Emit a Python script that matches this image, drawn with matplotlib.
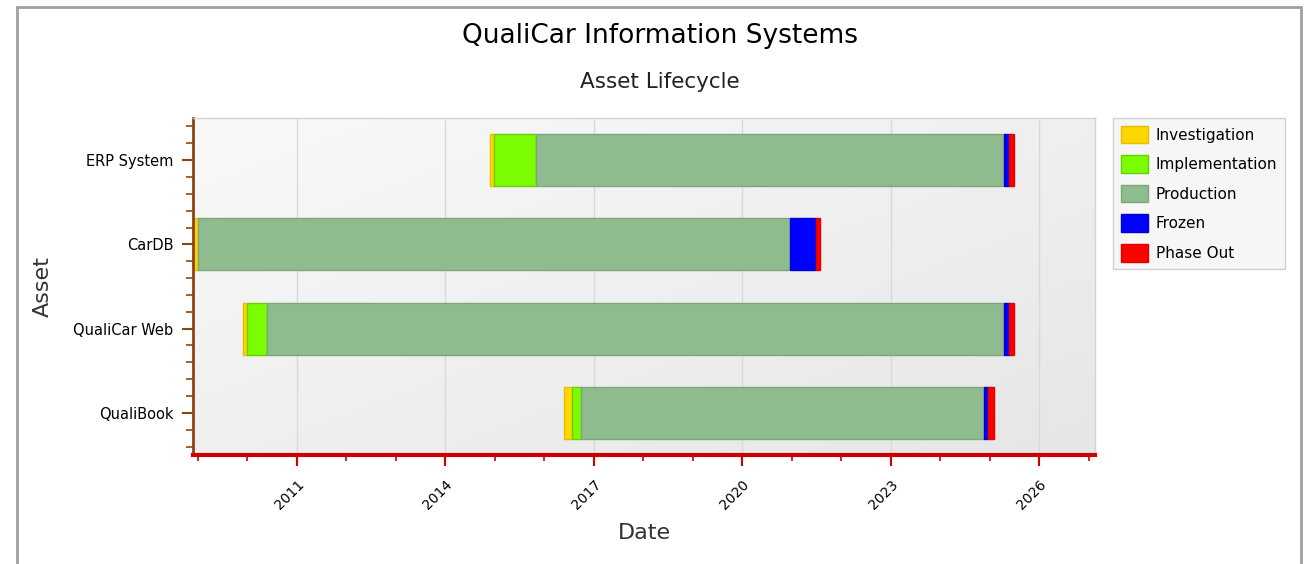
import matplotlib
matplotlib.use("Agg")
import matplotlib.pyplot as plt
import matplotlib.dates as mdates
from matplotlib.patches import Patch, Rectangle
from matplotlib.ticker import FixedLocator, MultipleLocator
from datetime import date
import numpy as np

assets = ["QualiBook", "QualiCar Web", "CarDB", "ERP System"]
phases = ["Investigation", "Implementation", "Production", "Frozen", "Phase Out"]
phase_colors = ["#ffd700", "#7cfc00", "#8fbc8f", "#0000ff", "#ff0000"]
edge_colors = ["#e6bd00", "#6ad000", "#7da67d", "#0000d0", "#e00000"]

# start of each lifecycle phase per asset, plus the retirement date
investigation_start = [date(2016, 5, 25), date(2009, 12, 1), date(2008, 12, 5), date(2014, 11, 25)]
implementation_start = [date(2016, 7, 25), date(2009, 12, 28), date(2009, 1, 1), date(2014, 12, 25)]
production_start = [date(2016, 9, 25), date(2010, 5, 30), date(2009, 1, 1), date(2015, 11, 1)]
frozen_start = [date(2024, 11, 15), date(2025, 4, 15), date(2020, 12, 20), date(2025, 4, 15)]
phaseout_start = [date(2024, 12, 20), date(2025, 5, 25), date(2021, 6, 25), date(2025, 5, 25)]
retired = [date(2025, 2, 1), date(2025, 6, 30), date(2021, 7, 30), date(2025, 6, 30)]

major_years = [2011, 2014, 2017, 2020, 2023, 2026]

fig = plt.figure(figsize=(13.06, 5.64), dpi=100)
fig.patch.set_facecolor("white")

# gray frame around the whole chart
fig.patches.append(Rectangle((17 / 1306, -0.02), 1284 / 1306, 1 - 6.5 / 564 + 0.02,
                             transform=fig.transFigure, fill=False,
                             edgecolor="#a0a0a0", linewidth=2))

ax = fig.add_axes([193 / 1306, 1 - 455 / 564, 902 / 1306, 337 / 564])

# soft diagonal gradient behind the plot
gx, gy = np.meshgrid(np.linspace(0, 1, 200), np.linspace(0, 1, 100))
grad = 0.5 * (gx + gy)
ax.imshow(grad, extent=[0, 1, 0, 1], transform=ax.transAxes, aspect="auto",
          cmap=matplotlib.colors.LinearSegmentedColormap.from_list("bg", ["#f9f9f9", "#e6e6e6"]),
          origin="upper", zorder=0, interpolation="bilinear")

bounds = [investigation_start, implementation_start, production_start,
          frozen_start, phaseout_start, retired]
ypos = np.arange(len(assets))
for i, phase in enumerate(phases):
    left = mdates.date2num(bounds[i])
    right = mdates.date2num(bounds[i + 1])
    width = right - left
    keep = width > 0
    ax.barh(ypos[keep], width[keep], left=left[keep], height=0.62,
            color=phase_colors[i], edgecolor=edge_colors[i], linewidth=1, zorder=2)

ax.set_xlim(mdates.date2num(date(2008, 11, 27)), mdates.date2num(date(2027, 2, 15)))
ax.set_ylim(-0.5, 3.5)

ax.xaxis.set_major_locator(FixedLocator(mdates.date2num([date(y, 1, 1) for y in major_years])))
ax.xaxis.set_minor_locator(mdates.YearLocator(1))
ax.xaxis.set_major_formatter(mdates.DateFormatter("%Y"))
ax.set_yticks(ypos, assets)
ax.yaxis.set_minor_locator(MultipleLocator(0.2))

ax.grid(axis="x", which="major", color="#d9d9d9", linewidth=1)
ax.set_axisbelow(True)

for lbl in ax.get_xticklabels():
    lbl.set_rotation(45)
    lbl.set_ha("right")
    lbl.set_rotation_mode("anchor")

ax.tick_params(axis="x", which="major", length=8, width=1.5, color="#cc0000", labelsize=10, pad=8)
ax.tick_params(axis="x", which="minor", length=4, width=1.2, color="#cc0000")
ax.tick_params(axis="y", which="major", length=8, width=1.5, color="#8b4513", labelsize=10.5, pad=6)
ax.tick_params(axis="y", which="minor", length=5, width=1.2, color="#8b4513")

ax.spines["bottom"].set_color("#cc0000")
ax.spines["bottom"].set_linewidth(3)
ax.spines["left"].set_color("#8b4513")
ax.spines["left"].set_linewidth(2)
for s in ("top", "right"):
    ax.spines[s].set_color("#d4d4d4")
    ax.spines[s].set_linewidth(1)

ax.set_xlabel("Date", fontsize=16, color="#333333", labelpad=8)
ax.set_ylabel("Asset", fontsize=16, color="#333333", labelpad=15)

fig.text(660 / 1306, 1 - 36 / 564, "QualiCar Information Systems", fontsize=19,
         ha="center", va="center")
fig.text(660 / 1306, 1 - 82 / 564, "Asset Lifecycle", fontsize=15.5,
         ha="center", va="center", color="#222222")

handles = [Patch(facecolor=c, edgecolor=e, label=p)
           for p, c, e in zip(phases, phase_colors, edge_colors)]
leg = fig.legend(handles=handles, loc="upper left",
                 bbox_to_anchor=(1113 / 1306, 1 - 118 / 564),
                 fontsize=11, frameon=True, fancybox=False,
                 handlelength=1.8, handleheight=1.4, labelspacing=0.78,
                 handletextpad=0.5, borderpad=0.5, borderaxespad=0)
leg.get_frame().set_facecolor("#f4f4f4")
leg.get_frame().set_edgecolor("#c8c8c8")
leg.get_frame().set_linewidth(1)

plt.savefig("out.png", dpi=100)
plt.close()
